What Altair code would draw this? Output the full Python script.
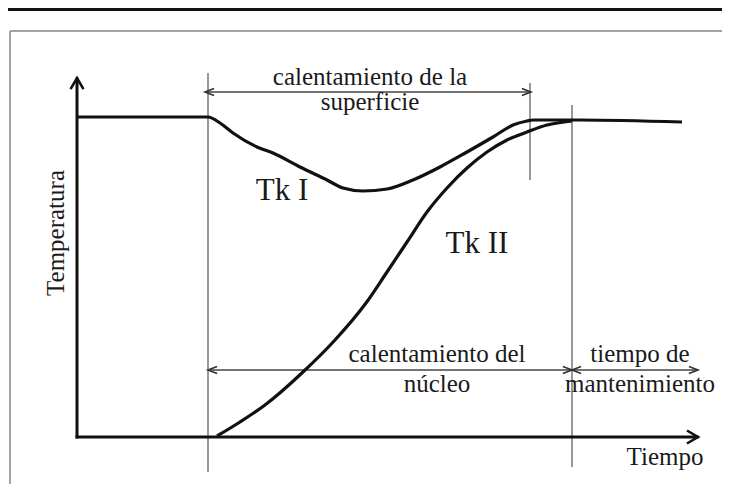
import altair as alt
import pandas as pd

# ---- values (t = time, T = temperature, origin at the axes corner) ----
tk1_t = [0, 131, 143, 156, 180, 196, 223, 250, 266, 286, 310, 336, 363, 390, 416, 436, 450, 456, 503, 605]
tk1_T = [320, 320, 314, 304, 290, 284, 270, 257, 249, 246, 248, 257, 270, 285, 300, 312, 316, 317, 317, 315]

tk2_t = [140, 163, 188, 226, 258, 289, 310, 330, 350, 370, 390, 410, 430, 450, 470, 495]
tk2_T = [1, 15, 32, 65, 97, 134, 165, 195, 225, 249, 269, 285, 297, 305, 312, 316]

# phase boundaries (t) and their vertical extent (T)
guide_t = [131, 453, 495]
guide_T1 = [-35, 257, -30]
guide_T2 = [364, 354, 332]

# annotation arrows: start t, end t, level T
arrow_t1 = [128, 131]
arrow_t2 = [454, 621]
arrow_T = [345, 67]
arrow_left_t = [128, 131, 495]
arrow_left_T = [345, 67, 67]
arrow_right_t = [454, 495, 621]
arrow_right_T = [345, 67, 67]

# axes
axis_t_max = 620
axis_T_max = 358
axis_tip_t = 621
axis_tip_T = 359

# frame and top rule of the page
frame_t = -67
frame_T = 406
page_rule_T = 427.5

labels = ["calentamiento de la", "superficie", "Tk I", "Tk II",
          "calentamiento del", "núcleo", "tiempo de", "mantenimiento", "Tiempo"]
label_t = [293, 293, 205, 400, 360, 360, 563, 563, 588]
label_T = [352, 327, 237, 184, 75, 45, 75, 45, -28]
label_fs = [25, 25, 31, 31, 25, 25, 25, 25, 25]

ylabel = "Temperatura"
ylabel_t = -13
ylabel_T = 204

T_MIN, T_MAX = -69, 645
Y_MIN, Y_MAX = -47, 429
W, H = 714, 476

xs = alt.Scale(domain=[T_MIN, T_MAX], nice=False, zero=False)
ys = alt.Scale(domain=[Y_MIN, Y_MAX], nice=False, zero=False)

FONT = "Liberation Serif, 'Times New Roman', Times, serif"
INK = "#1a1a1a"

curves = pd.DataFrame({
    "t": tk1_t + tk2_t,
    "T": tk1_T + tk2_T,
    "serie": ["Tk I"] * len(tk1_t) + ["Tk II"] * len(tk2_t),
})


def segs(t1, T1, t2, T2):
    return pd.DataFrame({"t1": t1, "T1": T1, "t2": t2, "T2": T2})


def rule_layer(df, color, width, cap="butt"):
    return alt.Chart(df).mark_rule(color=color, strokeWidth=width, strokeCap=cap).encode(
        x=alt.X("t1:Q", scale=xs, axis=None),
        y=alt.Y("T1:Q", scale=ys, axis=None),
        x2="t2:Q",
        y2="T2:Q",
    )


frame = rule_layer(segs([frame_t, frame_t], [frame_T, frame_T], [frame_t, T_MAX], [Y_MIN, frame_T]),
                   "#a3a3a3", 2)
page_rule = rule_layer(segs([T_MIN], [page_rule_T], [T_MAX], [page_rule_T]), "#111111", 3)
axes = rule_layer(segs([0, 0], [0, 0], [0, axis_t_max], [axis_T_max, 0]), "#111111", 3, "square")
guides = rule_layer(segs(guide_t, guide_T1, guide_t, guide_T2), "#555555", 1.2)
arrows = rule_layer(segs(arrow_t1, arrow_T, arrow_t2, arrow_T), "#444444", 1.3)

lines = alt.Chart(curves).mark_line(interpolate="monotone", color="#111111", strokeWidth=3.2).encode(
    x=alt.X("t:Q", scale=xs, axis=None),
    y=alt.Y("T:Q", scale=ys, axis=None),
    detail="serie:N",
)


def heads(t, T, shape, size, width, color):
    return alt.Chart(pd.DataFrame({"t": t, "T": T})).mark_point(
        shape=shape, size=size, filled=False, opacity=1, strokeWidth=width, color=color,
        strokeJoin="miter",
    ).encode(x=alt.X("t:Q", scale=xs, axis=None), y=alt.Y("T:Q", scale=ys, axis=None))


head_up = heads([0], [axis_tip_T], "M-1,1.7L0,0L1,1.7", 169, 2.6, "#111111")
head_right_big = heads([axis_tip_t], [0], "M-1.7,-1L0,0L-1.7,1", 169, 2.6, "#111111")
head_left = heads(arrow_left_t, arrow_left_T, "M2.6,-1L0,0L2.6,1", 49, 1.6, "#333333")
head_right = heads(arrow_right_t, arrow_right_T, "M-2.6,-1L0,0L-2.6,1", 49, 1.6, "#333333")

texts = alt.Chart(pd.DataFrame({"t": label_t, "T": label_T, "label": labels, "fs": label_fs})).mark_text(
    font=FONT, align="center", baseline="alphabetic", color=INK,
).encode(
    x=alt.X("t:Q", scale=xs, axis=None),
    y=alt.Y("T:Q", scale=ys, axis=None),
    text="label:N",
    size=alt.Size("fs:Q", scale=None, legend=None),
)

ytext = alt.Chart(pd.DataFrame({"t": [ylabel_t], "T": [ylabel_T], "label": [ylabel]})).mark_text(
    font=FONT, fontSize=25, align="center", baseline="alphabetic", angle=270, color=INK,
).encode(
    x=alt.X("t:Q", scale=xs, axis=None),
    y=alt.Y("T:Q", scale=ys, axis=None),
    text="label:N",
)

chart = alt.layer(
    frame, page_rule, guides, arrows, axes, lines,
    head_up, head_right_big, head_left, head_right, texts, ytext,
).properties(
    width=W, height=H, padding=0,
    autosize=alt.AutoSizeParams(type="none"),
    background="white",
).configure_view(stroke=None)

chart.save("out.html", embed_options={"renderer": "svg", "actions": False})
